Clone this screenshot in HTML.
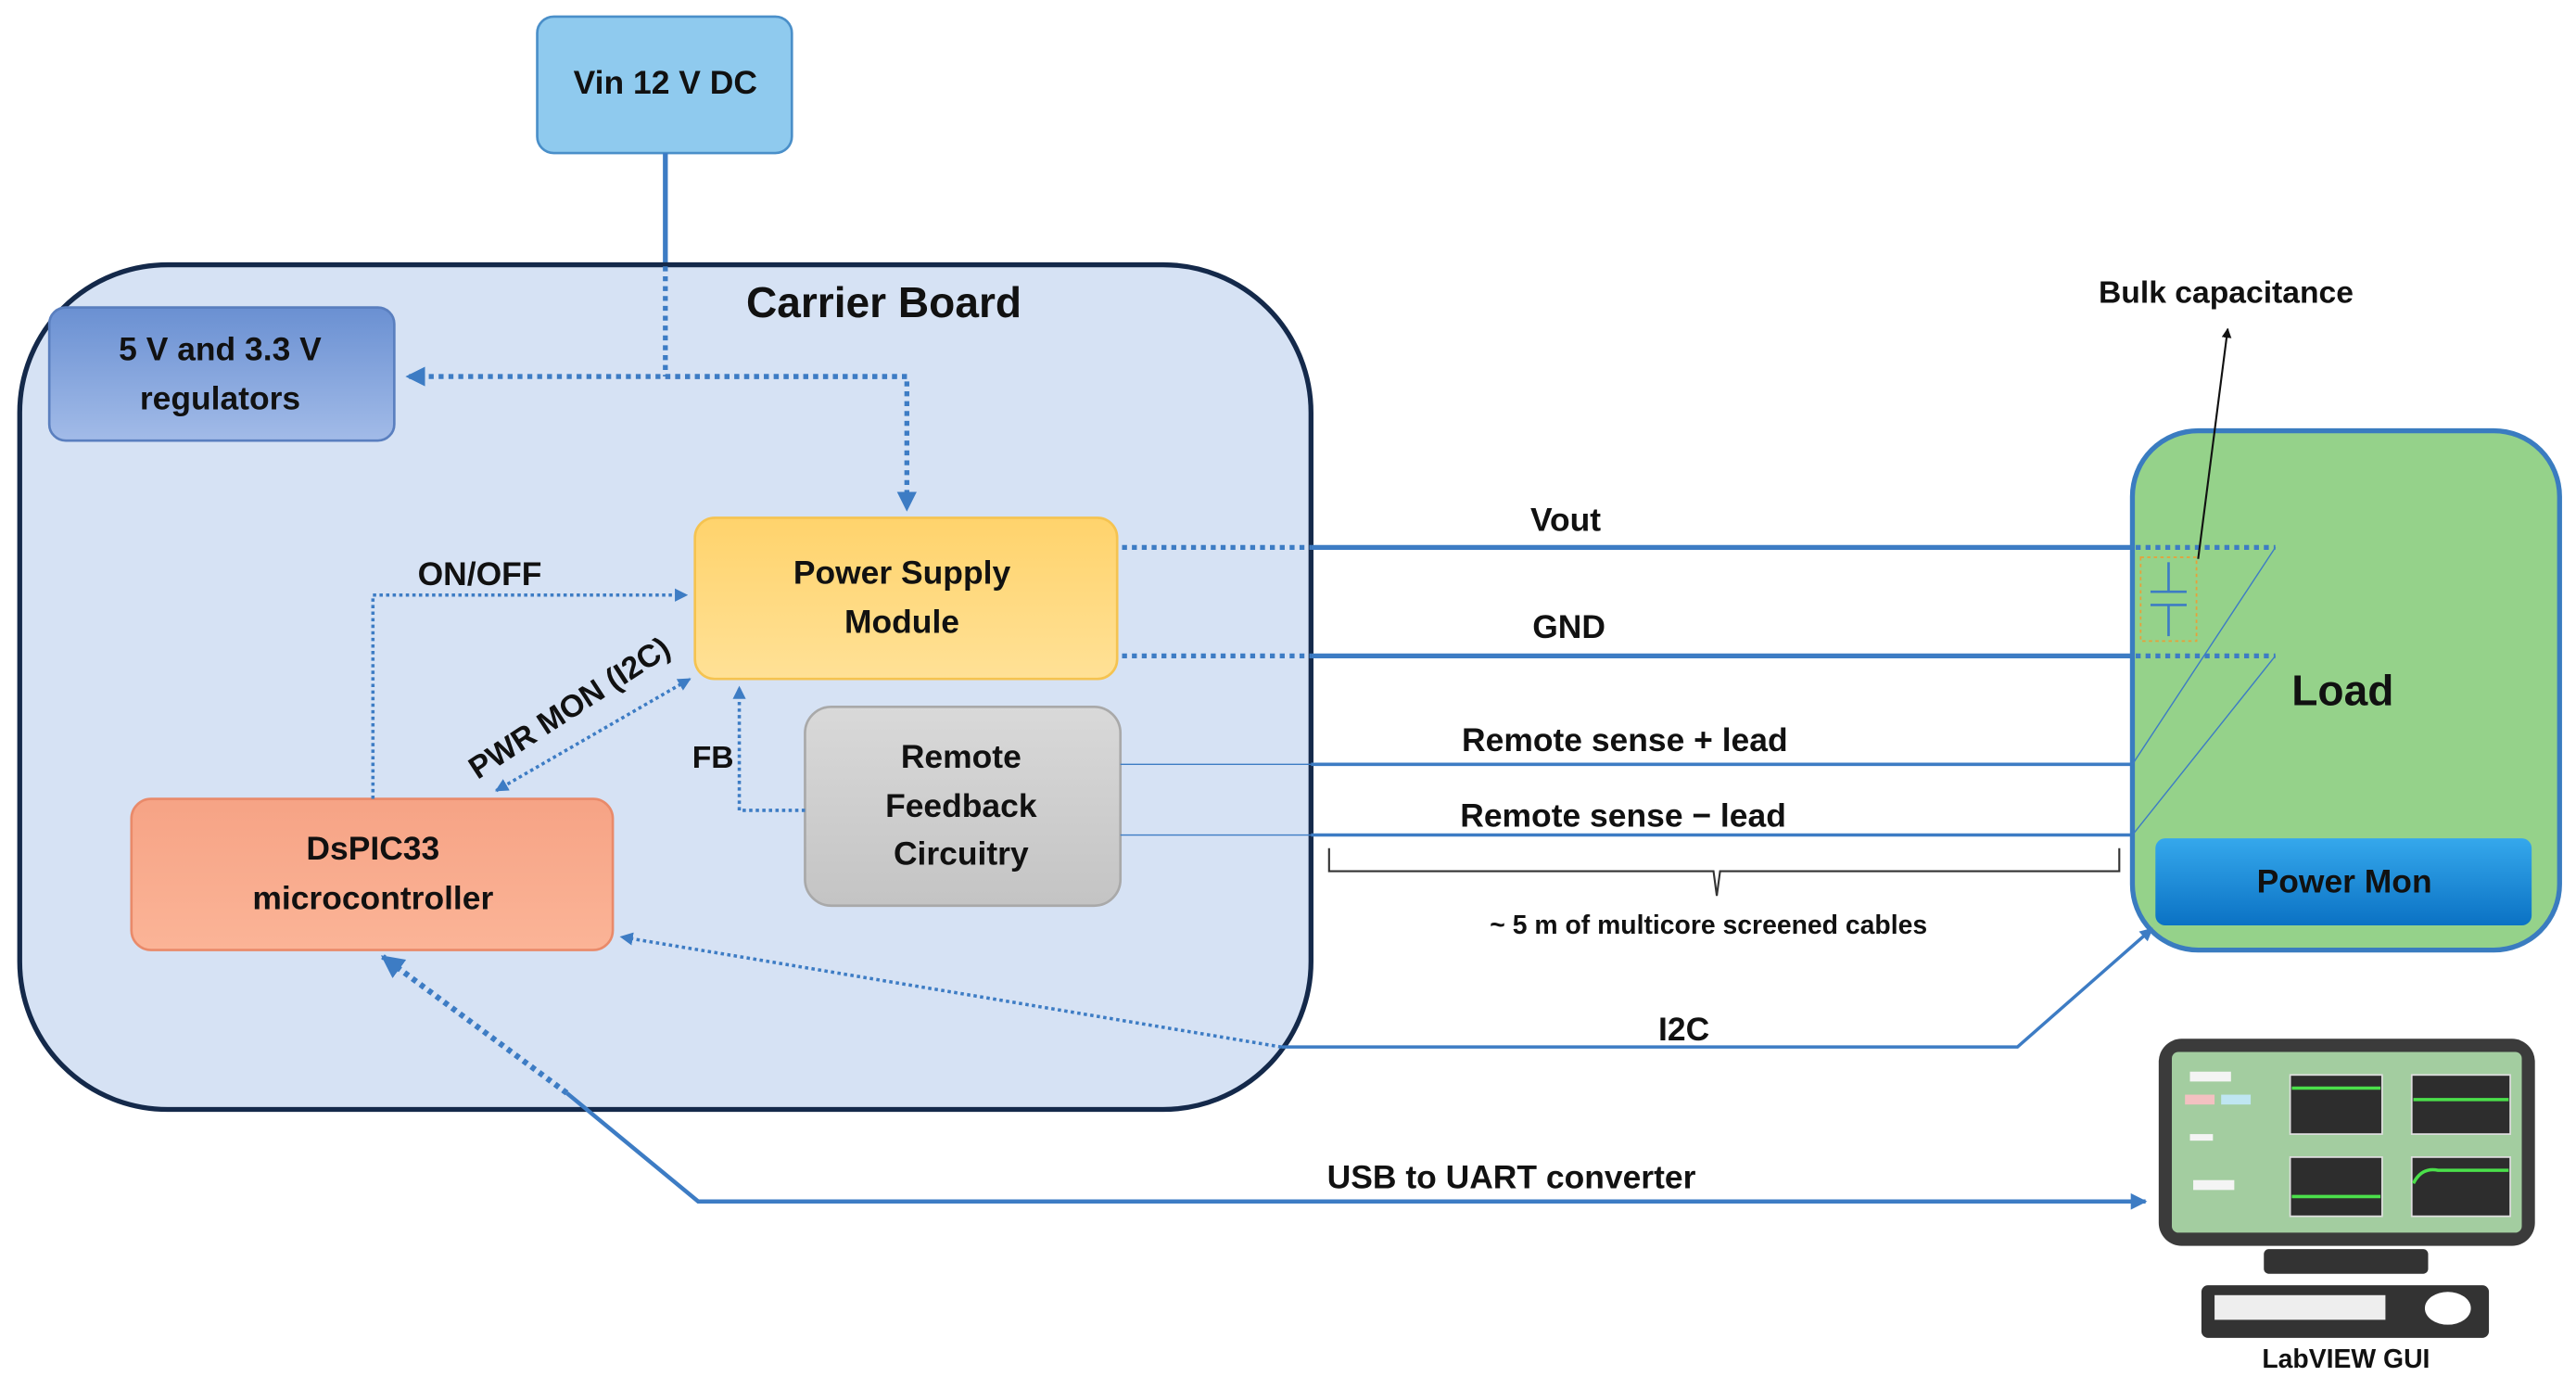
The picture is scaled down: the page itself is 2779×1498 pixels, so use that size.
<!DOCTYPE html>
<html><head><meta charset="utf-8">
<style>
html,body{margin:0;padding:0;background:#fff;}
svg{display:block;}
text{font-family:"Liberation Sans",sans-serif;font-weight:bold;fill:#111;}
</style></head>
<body>
<svg width="2779" height="1498" viewBox="0 0 1568 845" xmlns="http://www.w3.org/2000/svg">
<defs>
<linearGradient id="reg" x1="0" y1="0" x2="0" y2="1"><stop offset="0" stop-color="#6a90d2"/><stop offset="1" stop-color="#a2bbe8"/></linearGradient>
<linearGradient id="psm" x1="0" y1="0" x2="0" y2="1"><stop offset="0" stop-color="#ffd36c"/><stop offset="1" stop-color="#ffe196"/></linearGradient>
<linearGradient id="rfc" x1="0" y1="0" x2="0" y2="1"><stop offset="0" stop-color="#d9d9d9"/><stop offset="1" stop-color="#c4c4c4"/></linearGradient>
<linearGradient id="dsp" x1="0" y1="0" x2="0" y2="1"><stop offset="0" stop-color="#f6a385"/><stop offset="1" stop-color="#fbb497"/></linearGradient>
<linearGradient id="pm" x1="0" y1="0" x2="0" y2="1"><stop offset="0" stop-color="#35a8ec"/><stop offset="1" stop-color="#0b72c4"/></linearGradient>
<marker id="ar" viewBox="0 0 10 10" refX="9" refY="5" markerWidth="4" markerHeight="4" orient="auto-start-reverse"><path d="M0,0 L10,5 L0,10 z" fill="#3d7cc4"/></marker>
<marker id="ak" viewBox="0 0 10 10" refX="9" refY="5" markerWidth="5" markerHeight="5" orient="auto"><path d="M0,0 L10,5 L0,10 z" fill="#111"/></marker>
</defs>

<!-- Vin -->
<rect x="327" y="10" width="155" height="83" rx="10" fill="#8fcaee" stroke="#4a8fc9" stroke-width="1.5"/>
<text x="405" y="57" font-size="20" text-anchor="middle">Vin 12 V DC</text>
<line x1="405" y1="93" x2="405" y2="162" stroke="#3d7cc4" stroke-width="3"/>

<!-- Carrier board -->
<rect x="12" y="161" width="786" height="514" rx="90" fill="#d6e2f4" stroke="#14294a" stroke-width="3"/>
<text x="538" y="193" font-size="26" text-anchor="middle">Carrier Board</text>

<!-- regulators -->
<rect x="30" y="187" width="210" height="81" rx="10" fill="url(#reg)" stroke="#5a7fbf" stroke-width="1.5"/>
<text x="134" y="219" font-size="20" text-anchor="middle">5 V and 3.3 V</text>
<text x="134" y="249" font-size="20" text-anchor="middle">regulators</text>

<!-- dotted distribution -->
<g stroke="#3d7cc4" stroke-width="3" stroke-dasharray="3,3" fill="none">
<line x1="405" y1="162" x2="405" y2="229"/>
<line x1="552" y1="229" x2="248" y2="229" marker-end="url(#ar)"/>
<polyline points="405,229 552,229 552,310" marker-end="url(#ar)"/>
</g>

<!-- PSM -->
<rect x="423" y="315" width="257" height="98" rx="12" fill="url(#psm)" stroke="#f5c350" stroke-width="1.5"/>
<text x="549" y="355" font-size="20" text-anchor="middle">Power Supply</text>
<text x="549" y="385" font-size="20" text-anchor="middle">Module</text>

<!-- Remote feedback -->
<rect x="490" y="430" width="192" height="121" rx="16" fill="url(#rfc)" stroke="#a9a9a9" stroke-width="1.5"/>
<text x="585" y="467" font-size="20" text-anchor="middle">Remote</text>
<text x="585" y="497" font-size="20" text-anchor="middle">Feedback</text>
<text x="585" y="526" font-size="20" text-anchor="middle">Circuitry</text>

<!-- DsPIC -->
<rect x="80" y="486" width="293" height="92" rx="12" fill="url(#dsp)" stroke="#e98a6a" stroke-width="1.5"/>
<text x="227" y="523" font-size="20" text-anchor="middle">DsPIC33</text>
<text x="227" y="553" font-size="20" text-anchor="middle">microcontroller</text>

<!-- internal dotted links -->
<g stroke="#3d7cc4" stroke-width="2" stroke-dasharray="2,2" fill="none">
<polyline points="227,486 227,362 418,362" marker-end="url(#ar)"/>
<line x1="302" y1="481" x2="420" y2="413" marker-start="url(#ar)" marker-end="url(#ar)"/>
<polyline points="490,493 450,493 450,418" marker-end="url(#ar)"/>
</g>
<text x="292" y="356" font-size="20" text-anchor="middle">ON/OFF</text>
<text x="0" y="0" font-size="19" text-anchor="middle" transform="translate(350,436) rotate(-33)">PWR MON (I2C)</text>
<text x="434" y="467" font-size="19" text-anchor="middle">FB</text>

<!-- Vout / GND -->
<g stroke="#3d7cc4" stroke-width="3" fill="none">
<line x1="683" y1="333" x2="798" y2="333" stroke-dasharray="3,3"/>
<line x1="798" y1="333" x2="1300" y2="333"/>
<line x1="683" y1="399" x2="798" y2="399" stroke-dasharray="3,3"/>
<line x1="798" y1="399" x2="1300" y2="399"/>
</g>
<text x="953" y="323" font-size="20" text-anchor="middle">Vout</text>
<text x="955" y="388" font-size="20" text-anchor="middle">GND</text>

<!-- remote sense -->
<g stroke="#3d7cc4" fill="none">
<line x1="682" y1="465" x2="798" y2="465" stroke-width="0.8"/>
<line x1="798" y1="465" x2="1298" y2="465" stroke-width="2"/>
<line x1="682" y1="508" x2="798" y2="508" stroke-width="0.8"/>
<line x1="798" y1="508" x2="1298" y2="508" stroke-width="2"/>
</g>
<text x="989" y="457" font-size="20" text-anchor="middle">Remote sense + lead</text>
<text x="988" y="503" font-size="20" text-anchor="middle">Remote sense − lead</text>

<!-- brace -->
<path d="M809,516 L809,530 L1043,530 L1045,545 L1047,530 L1290,530 L1290,516" fill="none" stroke="#333" stroke-width="1.2"/>
<text x="1040" y="568" font-size="16" text-anchor="middle">~ 5 m of multicore screened cables</text>

<!-- Load -->
<rect x="1298" y="262" width="260" height="316" rx="40" fill="#95d28a" stroke="#3a7cc0" stroke-width="3"/>
<text x="1426" y="429" font-size="26" text-anchor="middle">Load</text>
<rect x="1312" y="510" width="229" height="53" rx="6" fill="url(#pm)"/>
<text x="1427" y="543" font-size="20" text-anchor="middle">Power  Mon</text>
<g stroke="#3d7cc4" stroke-width="3" stroke-dasharray="3,3">
<line x1="1300" y1="333" x2="1385" y2="333"/>
<line x1="1300" y1="399" x2="1385" y2="399"/>
</g>
<g stroke="#3d7cc4" stroke-width="0.8">
<line x1="1385" y1="333" x2="1298" y2="465"/>
<line x1="1385" y1="399" x2="1298" y2="508"/>
</g>
<!-- capacitor -->
<rect x="1303" y="339" width="34" height="51" fill="none" stroke="#e8a03a" stroke-width="1" stroke-dasharray="2,2"/>
<g stroke="#3d7cc4" stroke-width="1.5">
<line x1="1320" y1="342" x2="1320" y2="360"/>
<line x1="1309" y1="360" x2="1331" y2="360"/>
<line x1="1309" y1="368" x2="1331" y2="368"/>
<line x1="1320" y1="368" x2="1320" y2="387"/>
</g>
<line x1="1338" y1="340" x2="1356" y2="200" stroke="#111" stroke-width="1.2" marker-end="url(#ak)"/>
<text x="1355" y="184" font-size="19" text-anchor="middle">Bulk capacitance</text>

<!-- I2C -->
<line x1="780" y1="637" x2="378" y2="570" stroke="#3d7cc4" stroke-width="2" stroke-dasharray="2,2" marker-end="url(#ar)"/>
<polyline points="780,637 1228,637 1310,565" fill="none" stroke="#3d7cc4" stroke-width="2" marker-end="url(#ar)"/>
<text x="1025" y="633" font-size="20" text-anchor="middle">I2C</text>

<!-- USB -->
<line x1="345" y1="665" x2="233" y2="582" stroke="#3d7cc4" stroke-width="3.5" stroke-dasharray="3,3" marker-end="url(#ar)"/>
<polyline points="345,665 425,731 1306,731" fill="none" stroke="#3d7cc4" stroke-width="2.5" marker-end="url(#ar)"/>
<text x="920" y="723" font-size="20" text-anchor="middle">USB to UART converter</text>

<!-- monitor -->
<rect x="1314" y="632" width="229" height="126" rx="14" fill="#3b3b3b"/>
<rect x="1322" y="640" width="213" height="110" rx="4" fill="#a3cda0"/>
<g fill="#2d2d2d" stroke="#ddd" stroke-width="1">
<rect x="1394" y="654" width="56" height="36"/>
<rect x="1468" y="654" width="60" height="36"/>
<rect x="1394" y="704" width="56" height="36"/>
<rect x="1468" y="704" width="60" height="36"/>
</g>
<g stroke="#4be04b" stroke-width="2" fill="none">
<line x1="1395" y1="662" x2="1449" y2="662"/>
<line x1="1469" y1="669" x2="1527" y2="669"/>
<line x1="1395" y1="728" x2="1449" y2="728"/>
<path d="M1469,720 Q1474,710 1484,712 L1527,712"/>
</g>
<g fill="#f4f4f4"><rect x="1333" y="652" width="25" height="6"/><rect x="1330" y="666" width="18" height="6" fill="#f3c1c1"/><rect x="1352" y="666" width="18" height="6" fill="#bfe6f2"/><rect x="1333" y="690" width="14" height="4"/><rect x="1335" y="718" width="25" height="6"/></g>
<rect x="1378" y="760" width="100" height="15" rx="3" fill="#333"/>
<rect x="1340" y="782" width="175" height="32" rx="4" fill="#333"/>
<rect x="1348" y="788" width="104" height="15" fill="#eee"/>
<ellipse cx="1490" cy="796" rx="14" ry="10" fill="#fff"/>
<text x="1428" y="832" font-size="16" text-anchor="middle">LabVIEW GUI</text>
</svg>
</body></html>
